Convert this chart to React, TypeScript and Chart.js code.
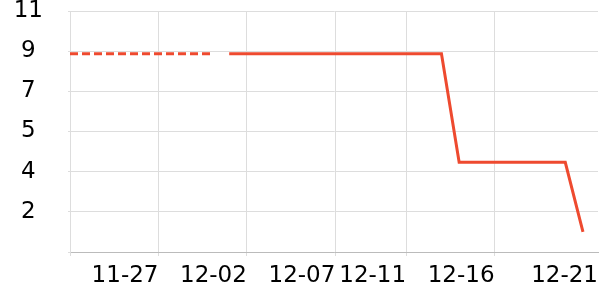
import React, { useEffect, useRef } from 'react';
import { Chart, registerables } from 'chart.js';

Chart.register(...registerables);

const dates = [
  '11-22', '11-23', '11-24', '11-25', '11-26', '11-27', '11-28', '11-29', '11-30',
  '12-01', '12-02', '12-03', '12-04', '12-05', '12-06', '12-07', '12-08', '12-09', '12-10',
  '12-11', '12-12', '12-13', '12-14', '12-15', '12-16', '12-17', '12-18', '12-19', '12-20', '12-21',
];

const projected: (number | null)[] = [
  8.88, 8.88, 8.88, 8.88, 8.88, 8.88, 8.88, 8.88, 8.88,
  null, null, null, null, null, null, null, null, null, null,
  null, null, null, null, null, null, null, null, null, null, null,
];

const actual: (number | null)[] = [
  null, null, null, null, null, null, null, null, null,
  8.88, 8.88, 8.88, 8.88, 8.88, 8.88, 8.88, 8.88, 8.88, 8.88,
  8.88, 8.88, 8.88, 4.02, 4.02, 4.02, 4.02, 4.02, 4.02, 4.02, 0.9,
];

const xTickDates = ['11-27', '12-02', '12-07', '12-11', '12-16', '12-21'];
const yTicks = [0, 1.8, 3.6, 5.4, 7.2, 9, 10.8];

const X_MAX = 29.85;
const LINE_COLOR = '#ee4a2f';
const FONT = { family: 'DejaVu Sans', size: 23 };

function toPoints(values: (number | null)[]) {
  return values.map((v, i) => ({ x: i, y: v }));
}

export default function App() {
  const ref = useRef<HTMLCanvasElement | null>(null);

  useEffect(() => {
    if (!ref.current) return;
    const lastLabel = xTickDates[xTickDates.length - 1];
    const chart = new Chart(ref.current, {
      type: 'line',
      data: {
        datasets: [
          {
            data: toPoints(projected) as any,
            borderColor: LINE_COLOR,
            borderWidth: 3,
            borderDash: [8, 4],
            pointRadius: 0,
            tension: 0,
            spanGaps: false,
          },
          {
            data: toPoints(actual) as any,
            borderColor: LINE_COLOR,
            borderWidth: 3,
            pointRadius: 0,
            tension: 0,
            spanGaps: false,
          },
        ],
      },
      options: {
        animation: false,
        responsive: true,
        maintainAspectRatio: false,
        layout: { padding: { top: 11, right: 2, left: 0, bottom: 0 } },
        plugins: { legend: { display: false }, tooltip: { enabled: false } },
        scales: {
          x: {
            type: 'linear',
            min: 0,
            max: X_MAX,
            afterBuildTicks: (scale: any) => {
              const vals = [0, ...xTickDates.slice(0, -1).map((d) => dates.indexOf(d)), X_MAX];
              scale.ticks = vals.map((v) => ({ value: v }));
            },
            afterFit: (scale: any) => {
              scale.height = 48;
              scale.paddingLeft = 0;
              scale.paddingRight = 0;
            },
            ticks: {
              autoSkip: false,
              maxRotation: 0,
              minRotation: 0,
              align: 'end',
              padding: 6,
              color: '#000',
              font: FONT,
              callback: (value: any) => {
                if (value === 0) return '';
                if (value === X_MAX) return lastLabel;
                return dates[value] ?? '';
              },
            },
            grid: {
              color: (ctx: any) =>
                ctx.tick && ctx.tick.value === X_MAX ? 'rgba(0,0,0,0)' : '#dddddd',
              tickLength: 4,
            },
            border: { color: '#bbbbbb' },
          },
          y: {
            type: 'linear',
            min: 0,
            max: 10.8,
            afterBuildTicks: (scale: any) => {
              scale.ticks = yTicks.map((v) => ({ value: v }));
            },
            afterFit: (scale: any) => {
              scale.width = 70;
              scale.paddingTop = 0;
              scale.paddingBottom = 0;
            },
            ticks: {
              crossAlign: 'center',
              padding: 25,
              color: '#000',
              font: { ...FONT, lineHeight: 1 },
              callback: (value: any) => (value === 0 ? '' : String(Math.round(value))),
            },
            grid: { color: '#dddddd', tickLength: 2 },
            border: { color: '#dddddd' },
          },
        },
      },
    });
    return () => chart.destroy();
  }, []);

  return (
    <div style={{ position: 'fixed', left: 0, top: 0, width: 600, height: 300 }}>
      <canvas ref={ref} />
    </div>
  );
}
